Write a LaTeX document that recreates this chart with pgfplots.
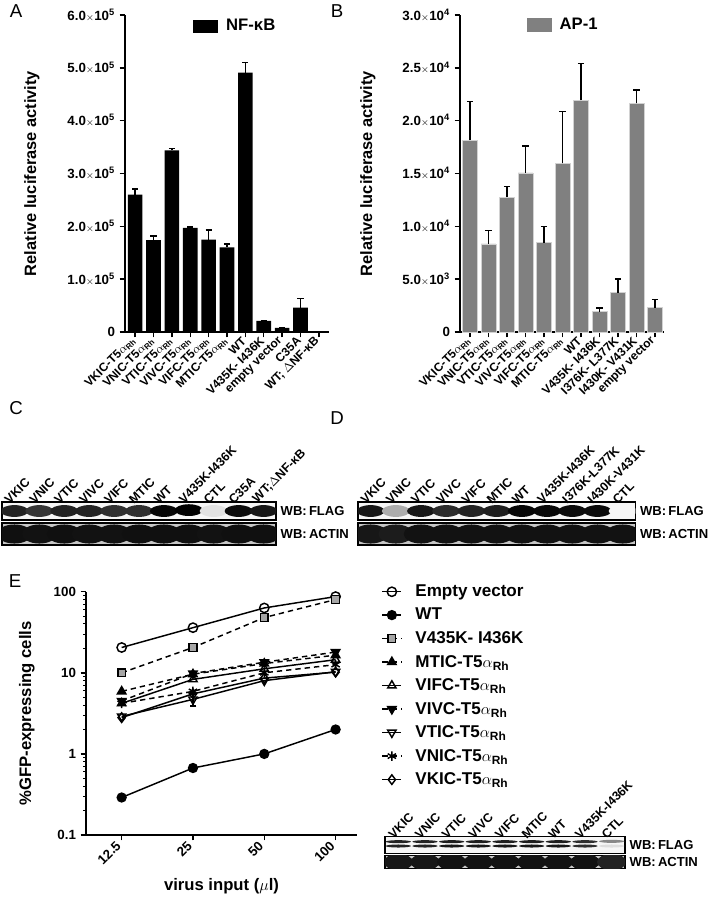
\documentclass[border=0pt]{standalone}
\usepackage{pgfplots}
\pgfplotsset{compat=1.18}
\usepackage{fontspec}
\setmainfont{Liberation Sans}
\newcommand{\sci}[2]{#1{\mdseries\fontsize{7}{8}\selectfont$\times$}10\textsuperscript{#2}}
\newcommand{\ar}{{\mdseries$\alpha$}\textsubscript{Rh}}
\pgfdeclareplotmark{band}{\pgfpathellipse{\pgfpointorigin}{\pgfqpoint{\pgfplotmarksize}{0pt}}{\pgfqpoint{0pt}{0.42\pgfplotmarksize}}\pgfusepathqfill}
\pgfdeclareplotmark{bandtall}{\pgfpathellipse{\pgfpointorigin}{\pgfqpoint{\pgfplotmarksize}{0pt}}{\pgfqpoint{0pt}{0.55\pgfplotmarksize}}\pgfusepathqfill}
\pgfdeclareplotmark{bandthin}{\pgfpathellipse{\pgfpointorigin}{\pgfqpoint{\pgfplotmarksize}{0pt}}{\pgfqpoint{0pt}{0.12\pgfplotmarksize}}\pgfusepathqfill}
\definecolor{apgray}{HTML}{808080}
\pgfplotsset{
  bars/.style={scale only axis, anchor=south west,
    axis x line*=bottom, axis y line*=left,
    axis line style={line width=1.1pt},
    every tick/.style={black, line width=1.1pt},
    tick align=outside, major tick length=4pt,
    ybar, bar shift=0pt, scaled y ticks=false,
    xtick={0,...,10},
    xticklabel style={rotate=45, anchor=east, font=\bfseries\fontsize{9}{10}\selectfont, inner sep=1.5pt},
    yticklabel style={font=\bfseries\fontsize{10}{11}\selectfont},
    ylabel style={font=\bfseries\fontsize{12.3}{14}\selectfont, anchor=center},
    legend style={draw=none, fill=none, inner sep=0pt, column sep=4pt, font=\bfseries\fontsize{12.5}{14}\selectfont},
  },
  errb/.style={error bars/.cd, y dir=plus, y explicit,
    error bar style={line width=1.1pt, black},
    error mark options={rotate=90, mark size=2.3pt, line width=1.1pt, black}},
  blot/.style={scale only axis, anchor=south west, xmin=0, xmax=#1, ymin=0, ymax=1,
    axis line style={line width=0.9pt}, ytick=\empty, xtick=\empty,
    axis background/.style={fill=gray!7},
    clip marker paths=true,
    colormap={blot}{color(0)=(gray!7) color(1)=(black)},
    point meta min=0, point meta max=1,
    ylabel style={rotate=-90, at={(axis description cs:1,0.5)}, anchor=west, xshift=0pt,
      font=\bfseries\fontsize{9.8}{12}\selectfont},
  },
  actin/.style={axis background/.style={fill=gray!45}},
  toplabels/.style={xticklabel pos=upper, major tick length=0pt,
    xticklabel style={rotate=45, anchor=south west, font=\bfseries\fontsize{9.3}{10}\selectfont, inner sep=1pt, xshift=-5pt}},
  bandplot/.style={scatter, only marks, scatter src=explicit,
    scatter/use mapped color={draw=none, fill=mapped color}},
}
\begin{document}
\begin{tikzpicture}
\useasboundingbox (0,0) rectangle (535.5pt,-672.75pt);
\node[font=\fontsize{14}{16}\selectfont] at (12pt,-8.25pt) {A};
\node[font=\fontsize{14}{16}\selectfont] at (252.75pt,-8.25pt) {B};
\node[font=\fontsize{14}{16}\selectfont] at (12pt,-306pt) {C};
\node[font=\fontsize{14}{16}\selectfont] at (252.75pt,-313.5pt) {D};
\node[font=\fontsize{14}{16}\selectfont] at (11.25pt,-435.75pt) {E};

% ---------------- A
\begin{axis}[bars, at={(93.75pt,-249pt)}, width=153pt, height=237.75pt,
  xmin=-0.55, xmax=10.55, ymin=0, ymax=600000, bar width=0.8,
  ytick={0,100000,200000,300000,400000,500000,600000},
  yticklabels={0,\sci{1.0}{5},\sci{2.0}{5},\sci{3.0}{5},\sci{4.0}{5},\sci{5.0}{5},\sci{6.0}{5}},
  xticklabels={VKIC-T5\ar,VNIC-T5\ar,VTIC-T5\ar,VIVC-T5\ar,VIFC-T5\ar,MTIC-T5\ar,WT,V435K- I436K,empty vector,C35A,{WT; {\mdseries$\Delta$}NF-κB}},
  ylabel={Relative luciferase activity},
  ylabel style={at={(axis description cs:-0.456,0.5)}},
  legend style={at={(axis description cs:0.333,0.995)}, anchor=north west},
  legend image code/.code={\fill[black] (0pt,-4.7pt) rectangle (18.75pt,4.7pt);},
]
\addplot[fill=black, draw=none, errb] table[x=x, y=y, y error=e] {
x y e
0 260000 11000
1 174000 8000
2 344000 3000
3 197000 2000
4 175000 18000
5 160000 7000
6 491000 19000
7 21000 1000
8 8000 500
9 46000 17000
10 0 0
};
\addlegendentry{NF-κB}
\end{axis}

% ---------------- B
\begin{axis}[bars, at={(345pt,-249pt)}, width=153pt, height=237.75pt,
  xmin=-0.54, xmax=10.49, ymin=0, ymax=30000, bar width=0.8,
  ytick={0,5000,10000,15000,20000,25000,30000},
  yticklabels={0,\sci{5.0}{3},\sci{1.0}{4},\sci{1.5}{4},\sci{2.0}{4},\sci{2.5}{4},\sci{3.0}{4}},
  xticklabels={VKIC-T5\ar,VNIC-T5\ar,VTIC-T5\ar,VIVC-T5\ar,VIFC-T5\ar,MTIC-T5\ar,WT,V435K- I436K,I376K- L377K,I430K- V431K,empty vector},
  ylabel={Relative luciferase activity},
  ylabel style={at={(axis description cs:-0.451,0.5)}},
  legend style={at={(axis description cs:0.328,1.0)}, anchor=north west},
  legend image code/.code={\fill[apgray] (0pt,-4.7pt) rectangle (18pt,4.7pt);},
]
\addplot[fill=apgray, draw=gray!35, line width=0.4pt, errb] table[x=x, y=y, y error=e] {
x y e
0 18160 3640
1 8340 1290
2 12760 1010
3 15070 2550
4 8465 1545
5 15950 4900
6 21950 3480
7 1930 340
8 3730 1290
9 21640 1260
10 2300 800
};
\addlegendentry{AP-1}
\end{axis}

% ---------------- C blot
\begin{axis}[blot=11, toplabels, at={(1.5pt,-390pt)}, width=205.5pt, height=13.5pt,
  xtick={0.5,1.5,...,10.5},
  xticklabels={VKIC,VNIC,VTIC,VIVC,VIFC,MTIC,WT,V435K-I436K,CTL,C35A,{WT;{\mdseries$\Delta$}NF-κB}},
  ylabel={WB:\,FLAG}]
\addplot[bandplot, mark=band, mark size=10.5pt] table[meta=c] {
x y c
0.5 0.5 0.85
1.5 0.5 0.78
2.5 0.5 0.85
3.5 0.5 0.85
4.5 0.5 0.8
5.5 0.5 0.8
6.5 0.5 0.97
7.5 0.55 1.0
8.5 0.5 0.08
9.5 0.5 0.95
10.5 0.5 0.9
};
\end{axis}
\begin{axis}[blot=11, actin, at={(1.5pt,-408.75pt)}, width=205.5pt, height=16.5pt, ylabel={WB:\,ACTIN}]
\addplot[bandplot, mark=bandtall, mark size=13pt] table[meta=c] {
x y c
0.5 0.5 0.93
1.5 0.5 0.92
2.5 0.5 0.93
3.5 0.5 0.92
4.5 0.5 0.92
5.5 0.5 0.93
6.5 0.5 0.93
7.5 0.5 0.93
8.5 0.5 0.92
9.5 0.5 0.93
10.5 0.5 0.93
};
\end{axis}

% ---------------- D blot
\begin{axis}[blot=11, toplabels, at={(268.5pt,-390pt)}, width=208pt, height=13.5pt,
  xtick={0.5,1.5,...,10.5},
  xticklabels={VKIC,VNIC,VTIC,VIVC,VIFC,MTIC,WT,V435K-I436K,I376K-L377K,I430K-V431K,CTL},
  ylabel={WB:\,FLAG}]
\addplot[bandplot, mark=band, mark size=10.5pt] table[meta=c] {
x y c
0.5 0.5 0.9
1.5 0.5 0.3
2.5 0.5 0.9
3.5 0.5 0.82
4.5 0.5 0.85
5.5 0.5 0.87
6.5 0.5 0.97
7.5 0.5 0.96
8.5 0.5 0.95
9.5 0.5 0.95
10.5 0.5 0.0
};
\end{axis}
\begin{axis}[blot=11, actin, at={(268.5pt,-408.75pt)}, width=208pt, height=16.5pt, ylabel={WB:\,ACTIN}]
\addplot[bandplot, mark=bandtall, mark size=13pt] table[meta=c] {
x y c
0.5 0.5 0.9
1.5 0.5 0.88
2.5 0.5 0.92
3.5 0.5 0.92
4.5 0.5 0.92
5.5 0.5 0.92
6.5 0.5 0.92
7.5 0.5 0.92
8.5 0.5 0.92
9.5 0.5 0.92
10.5 0.5 0.92
};
\end{axis}

% ---------------- E blot
\begin{axis}[blot=9, toplabels, at={(288.75pt,-640pt)}, width=180pt, height=12.5pt,
  xtick={0.5,1.5,...,8.5},
  xticklabels={VKIC,VNIC,VTIC,VIVC,VIFC,MTIC,WT,V435K-I436K,CTL},
  ylabel={WB:\,FLAG}]
\addplot[bandplot, mark=bandthin, mark size=9.5pt] table[meta=c] {
x y c
0.5 0.7 0.85
1.5 0.7 0.85
2.5 0.7 0.87
3.5 0.7 0.87
4.5 0.7 0.87
5.5 0.7 0.87
6.5 0.7 0.87
7.5 0.7 0.8
8.5 0.72 0.45
};
\addplot[bandplot, mark=bandthin, mark size=9.5pt] table[meta=c] {
x y c
0.5 0.44 0.85
1.5 0.44 0.85
2.5 0.44 0.9
3.5 0.44 0.9
4.5 0.44 0.9
5.5 0.44 0.9
6.5 0.44 0.9
7.5 0.44 0.8
8.5 0.44 0.1
};
\end{axis}
\begin{axis}[blot=9, actin, at={(288.75pt,-651.25pt)}, width=180pt, height=9.5pt, ylabel={WB:\,ACTIN}]
\addplot[bandplot, mark=bandtall, mark size=11pt] table[meta=c] {
x y c
0.5 0.5 0.9
1.5 0.5 0.9
2.5 0.5 0.92
3.5 0.5 0.92
4.5 0.5 0.92
5.5 0.5 0.92
6.5 0.5 0.92
7.5 0.5 0.92
8.5 0.5 0.85
};
\end{axis}

% ---------------- E chart
\begin{axis}[scale only axis, anchor=south west, at={(64.5pt,-626.25pt)}, width=203.25pt, height=182.5pt,
  ymode=log, ymin=0.1, ymax=100, xmin=-0.5, xmax=3.3,
  axis x line*=bottom, axis y line*=left,
  axis line style={line width=1.1pt},
  every tick/.style={black, line width=1.1pt},
  every minor tick/.style={black, line width=0.8pt},
  tick align=outside, major tick length=4pt, minor tick length=2.2pt,
  xtick={0,1,2,3}, xticklabels={12.5,25,50,100},
  ytick={0.1,1,10,100}, yticklabels={0.1,1,10,100},
  xticklabel style={rotate=45, anchor=east, font=\bfseries\fontsize{10}{11}\selectfont},
  yticklabel style={font=\bfseries\fontsize{10}{11}\selectfont},
  xlabel={virus input ({\mdseries$\mu$}l)},
  ylabel={\%GFP-expressing cells},
  xlabel style={at={(axis description cs:0.5,-0.212)}, anchor=center, font=\bfseries\fontsize{12.5}{14}\selectfont},
  ylabel style={at={(axis description cs:-0.218,0.5)}, anchor=center, font=\bfseries\fontsize{12.5}{14}\selectfont},
  legend style={draw=none, fill=none, inner sep=0pt, at={(axis description cs:1.09,1.04)}, anchor=north west,
    font=\bfseries\fontsize{12.8}{14}\selectfont, row sep=3.2pt, column sep=8pt, legend cell align=left},
  legend image code/.code={\draw[mark repeat=2,mark phase=2,#1] plot coordinates {(0cm,0cm) (0.25cm,0cm) (0.5cm,0cm)};},
  every axis plot/.append style={black, line width=1.1pt},
  dsh/.style={dash pattern=on 4pt off 3pt},
]
\addplot[mark=o, mark size=3.5pt, mark options={solid}] coordinates {(0,20.5) (1,36) (2,63) (3,87)};
\addlegendentry{Empty vector}
\addplot[mark=*, mark size=3.3pt, mark options={solid}] coordinates {(0,0.29) (1,0.67) (2,1.0) (3,2.0)};
\addlegendentry{WT}
\addplot[dsh, mark=square*, mark size=2.9pt, mark options={solid, fill=gray!70}] coordinates {(0,10) (1,20.5) (2,48) (3,80)};
\addlegendentry{V435K- I436K}
\addplot[dsh, mark=triangle*, mark size=3.6pt, mark options={solid}] coordinates {(0,5.9) (1,9.6) (2,13) (3,16.5)};
\addlegendentry{MTIC-T5\ar}
\addplot[mark=triangle, mark size=3.6pt, mark options={solid}] coordinates {(0,4.2) (1,8.3) (2,11.2) (3,14.5)};
\addlegendentry{VIFC-T5\ar}
\addplot[dsh, mark=triangle*, mark size=3.6pt, mark options={solid, rotate=180}] coordinates {(0,4.5) (1,9.8) (2,13.5) (3,18)};
\addlegendentry{VIVC-T5\ar}
\addplot[mark=triangle, mark size=3.6pt, mark options={solid, rotate=180},
  error bars/.cd, y dir=both, y explicit, error bar style={line width=1.1pt, solid},
  error mark options={rotate=90, mark size=2.5pt, line width=1.1pt}] coordinates {(0,2.9) (1,4.7) +- (0,0.8) (2,8.0) (3,10.3)};
\addlegendentry{VTIC-T5\ar}
\addplot[dsh, mark=asterisk, mark size=3.6pt, mark options={solid}] coordinates {(0,4.2) (1,5.9) (2,10) (3,12.6)};
\addlegendentry{VNIC-T5\ar}
\addplot[mark=diamond, mark size=3.6pt, mark options={solid}] coordinates {(0,2.8) (1,5.5) (2,8.6) (3,10.2)};
\addlegendentry{VKIC-T5\ar}
\end{axis}
\end{tikzpicture}
\end{document}
